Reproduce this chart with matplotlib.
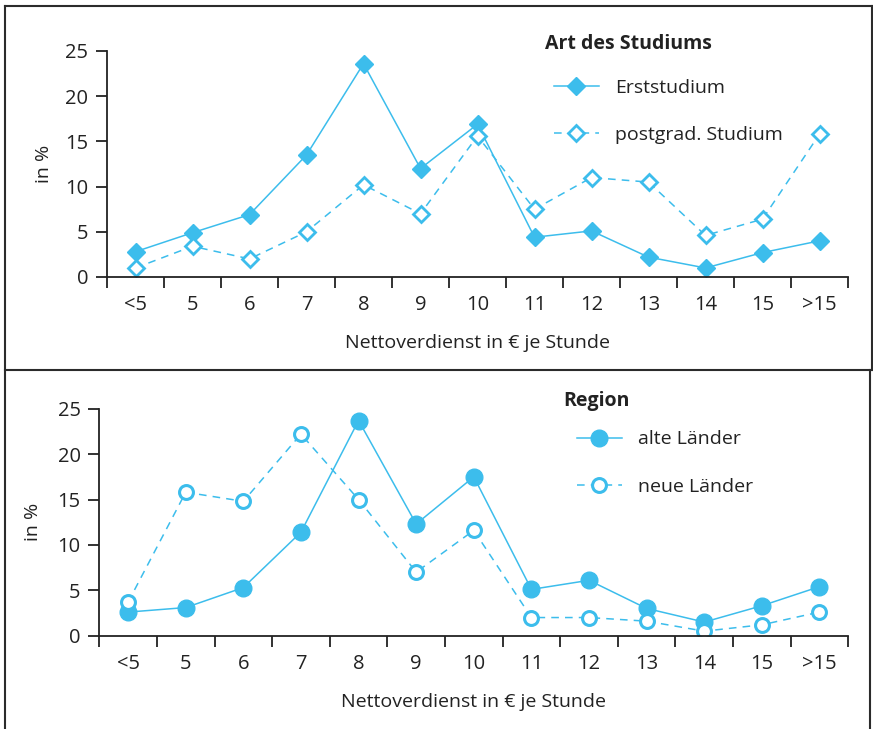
import matplotlib.pyplot as plt
from matplotlib.lines import Line2D
import numpy as np

plt.rcParams['font.family'] = ['Open Sans', 'DejaVu Sans']

categories = ["<5", "5", "6", "7", "8", "9", "10", "11", "12", "13", "14", "15", ">15"]
erststudium = [2.8, 4.9, 6.9, 13.5, 23.6, 12.0, 16.9, 4.4, 5.1, 2.2, 1.0, 2.7, 4.0]
postgrad = [1.0, 3.4, 2.0, 5.0, 10.2, 7.0, 15.6, 7.5, 11.0, 10.5, 4.6, 6.4, 15.8]
alte_laender = [2.6, 3.1, 5.3, 11.4, 23.7, 12.3, 17.5, 5.1, 6.1, 3.0, 1.5, 3.3, 5.4]
neue_laender = [3.7, 15.8, 14.8, 22.2, 15.0, 7.0, 11.6, 2.0, 2.0, 1.6, 0.5, 1.2, 2.6]

blue = "#3cbdec"
ink = "#222222"
fs = 14
tfs = 14.5

fig = plt.figure(figsize=(8.73, 7.29), dpi=100)
W, H = 873.0, 729.0

# panel frames
frame = dict(color="#2b2b2b", lw=1.5, transform=fig.transFigure)
fig.add_artist(Line2D([4.5/W, 4.5/W], [0, 1 - 6/H], **frame))
fig.add_artist(Line2D([4.5/W, 872/W], [1 - 6/H, 1 - 6/H], **frame))
fig.add_artist(Line2D([872/W, 872/W], [1 - 6/H, 1 - 369.5/H], **frame))
fig.add_artist(Line2D([870/W, 870/W], [1 - 369.5/H, 0], **frame))
fig.add_artist(Line2D([4.5/W, 872/W], [1 - 369.5/H, 1 - 369.5/H], **frame))


def setup(ax, ylabelpad):
    x = np.arange(len(categories))
    ax.set_xlim(-0.5, len(categories) - 0.5)
    ax.set_ylim(0, 25)
    ax.spines['top'].set_visible(False)
    ax.spines['right'].set_visible(False)
    for s in ['left', 'bottom']:
        ax.spines[s].set_linewidth(1.3)
        ax.spines[s].set_color(ink)
    ax.set_yticks([0, 5, 10, 15, 20, 25])
    ax.set_xticks(np.arange(-0.5, len(categories), 1.0))
    ax.set_xticklabels([])
    ax.set_xticks(x, minor=True)
    ax.set_xticklabels(categories, minor=True)
    ax.tick_params(axis='x', which='major', length=8, width=1.3, color=ink)
    ax.tick_params(axis='x', which='minor', length=0, pad=13, labelsize=tfs, labelcolor=ink)
    ax.tick_params(axis='y', length=8, width=1.3, color=ink, pad=5.5, labelsize=tfs, labelcolor=ink)
    ax.set_xlabel("Nettoverdienst in € je Stunde", fontsize=fs, color=ink, labelpad=14)
    ax.set_ylabel("in %", fontsize=fs, color=ink, labelpad=ylabelpad)
    return x


def legend(ax, title, tx, ty, lx, ly):
    fig.text(tx/W, 1 - ty/H, title, fontsize=fs, fontweight='bold', color=ink,
             ha='left', va='center')
    ax.legend(loc='center left', bbox_to_anchor=(lx/W, 1 - ly/H), bbox_transform=fig.transFigure,
              frameon=False, fontsize=fs, borderpad=0, borderaxespad=0,
              handlelength=2.3, handletextpad=0.85, labelspacing=1.5, labelcolor=ink)


ax1 = fig.add_axes([107/W, 1 - 277/H, 741/W, 226/H])
x = setup(ax1, 9)
ax1.plot(x, erststudium, '-', color=blue, lw=1.1, marker='D', ms=9,
         mfc=blue, mec=blue, label="Erststudium")
ax1.plot(x, postgrad, '--', color=blue, lw=1.1, dashes=(5, 4), marker='D', ms=8,
         mfc='white', mec=blue, mew=2, label="postgrad. Studium")
legend(ax1, "Art des Studiums", 545, 44, 554, 111.5)

ax2 = fig.add_axes([99.3/W, 1 - 635.7/H, 749/W, 227/H])
x = setup(ax2, 11)
ax2.plot(x, alte_laender, '-', color=blue, lw=1.1, marker='o', ms=12,
         mfc=blue, mec=blue, label="alte Länder")
ax2.plot(x, neue_laender, '--', color=blue, lw=1.1, dashes=(5, 4), marker='o', ms=10,
         mfc='white', mec=blue, mew=2.2, label="neue Länder")
legend(ax2, "Region", 563, 401, 577, 463)

fig.savefig("out.png", dpi=100)
